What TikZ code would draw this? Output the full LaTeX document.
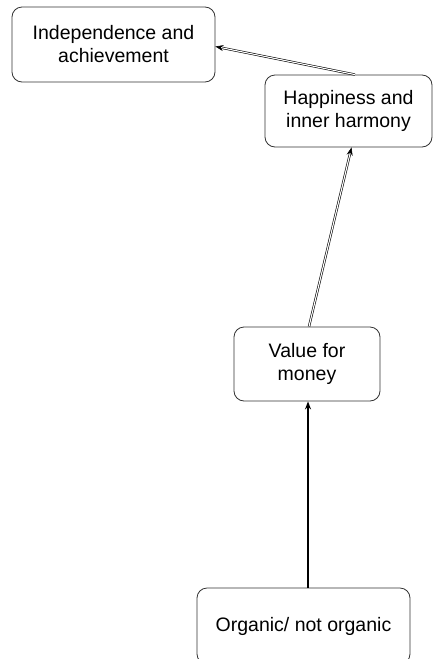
\documentclass[tikz,border=0pt]{standalone}
\usepackage{fontspec}
\setmainfont{Liberation Sans}
\usetikzlibrary{arrows.meta}
\begin{document}
\begin{tikzpicture}[x=1pt,y=-1pt,
  valuebox/.style={draw=black!80, line width=0.8pt, rounded corners=10pt,
    align=center, inner sep=0pt, font=\fontsize{19.5}{23}\selectfont},
  link/.style={draw=black, double=white, double distance=1.1pt, line width=0.6pt,
    -{Stealth[length=8pt,width=6pt]}},
  solidlink/.style={draw=black, line width=1.6pt, -{Stealth[length=8pt,width=6pt]}}]
\useasboundingbox (0,0) rectangle (433,659);
\node[valuebox, minimum width=203pt, minimum height=75pt] (ind) at (113.5,44.5)
  {Independence and\\achievement};
\node[valuebox, minimum width=167pt, minimum height=72pt] (hap) at (348.5,111)
  {Happiness and\\inner harmony};
\node[valuebox, minimum width=146pt, minimum height=74pt] (val) at (307,364)
  {Value for\\money};
\node[valuebox, minimum width=213pt, minimum height=76pt] (org) at (303.5,626)
  {Organic/ not organic};
% ladder links, each pointing to the higher-level value
\draw[link] ([xshift=6.5pt]hap.north) -- ([yshift=-2pt]ind.east);
\draw[link] ([xshift=2pt]val.north) -- ([xshift=3pt]hap.south);
\draw[solidlink] ([xshift=4.5pt]org.north) -- ([xshift=1pt]val.south);
\end{tikzpicture}
\end{document}
